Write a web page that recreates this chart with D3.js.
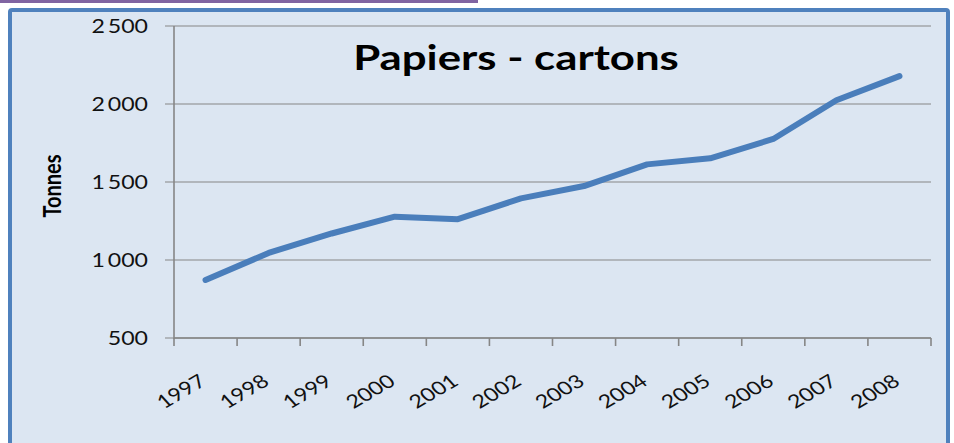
<!DOCTYPE html>
<html>
<head>
<meta charset="utf-8">
<script src="https://cdn.jsdelivr.net/npm/d3@7"></script>
<style>
  body { margin: 0; background: #fff; }
  text { font-family: Lato, "Open Sans", sans-serif; }
</style>
</head>
<body>
<div id="chart"></div>
<script>
// data
var years = ["1997","1998","1999","2000","2001","2002","2003","2004","2005","2006","2007","2008"];
var tonnes = [872, 1045, 1170, 1278, 1262, 1395, 1474, 1613, 1652, 1776, 2024, 2179];
var yTicks = [500, 1000, 1500, 2000, 2500];
var yTickLabels = ["500", "1\u2009000", "1\u2009500", "2\u2009000", "2\u2009500"];

var W = 954, H = 443;
// the original picture is stretched sideways, text too
var stretch = 1.25;

var svg = d3.select("#chart").append("svg")
  .attr("width", W)
  .attr("height", H);

// purple strip at the top
svg.append("rect")
  .attr("x", 0).attr("y", 0)
  .attr("width", 478).attr("height", 3)
  .attr("fill", "#8064a2");

// chart frame
svg.append("rect")
  .attr("x", 10).attr("y", 10)
  .attr("width", 938).attr("height", 450)
  .attr("rx", 2)
  .attr("fill", "#dce6f2")
  .attr("stroke", "#4f81bd")
  .attr("stroke-width", 4);

// plot area
var pLeft = 174, pRight = 931, pTop = 26, pBottom = 338;

var x = d3.scaleBand()
  .domain(years)
  .range([pLeft, pRight]);

var y = d3.scaleLinear()
  .domain([500, 2500])
  .range([pBottom, pTop]);

// gridlines
svg.append("g")
  .selectAll("line")
  .data(yTicks)
  .enter()
  .append("line")
    .attr("x1", pLeft - 9)
    .attr("x2", pRight)
    .attr("y1", function(d) { return y(d); })
    .attr("y2", function(d) { return y(d); })
    .attr("stroke", "#868686")
    .attr("stroke-width", 1.2);

// y axis line
svg.append("line")
  .attr("x1", pLeft).attr("x2", pLeft)
  .attr("y1", pTop).attr("y2", pBottom + 1)
  .attr("stroke", "#868686")
  .attr("stroke-width", 1.6);

// y tick labels
svg.append("g")
  .selectAll("text")
  .data(yTicks)
  .enter()
  .append("text")
    .attr("transform", function(d) { return "translate(148," + y(d) + ") scale(" + stretch + ",1)"; })
    .attr("dy", "0.36em")
    .attr("text-anchor", "end")
    .attr("font-size", 18.5)
    .attr("fill", "#111")
    .text(function(d, i) { return yTickLabels[i]; });

// x axis with tick marks between categories
var xAxis = svg.append("g")
  .attr("transform", "translate(0," + pBottom + ")");
xAxis.append("line")
  .attr("x1", pLeft).attr("x2", pRight)
  .attr("stroke", "#868686")
  .attr("stroke-width", 1.6);
xAxis.selectAll(".tk")
  .data(years.concat(["end"]))
  .enter()
  .append("line")
    .attr("class", "tk")
    .attr("x1", function(d, i) { return i < years.length ? x(d) : pRight; })
    .attr("x2", function(d, i) { return i < years.length ? x(d) : pRight; })
    .attr("y1", 0).attr("y2", 8)
    .attr("stroke", "#868686")
    .attr("stroke-width", 1.6);

// x labels, rotated
svg.append("g")
  .selectAll("text")
  .data(years)
  .enter()
  .append("text")
    .attr("transform", function(d) {
      return "translate(" + (x(d) + x.bandwidth() / 2 + 2) + "," + (pBottom + 46) + ") scale(" + stretch + ",1) rotate(-36)";
    })
    .attr("text-anchor", "end")
    .attr("font-size", 18.5)
    .attr("fill", "#111")
    .text(function(d) { return d; });

// the line
var line = d3.line()
  .x(function(d, i) { return x(years[i]) + x.bandwidth() / 2; })
  .y(function(d) { return y(d); });

svg.append("path")
  .datum(tonnes)
  .attr("d", line)
  .attr("fill", "none")
  .attr("stroke", "#4a7ebb")
  .attr("stroke-width", 6)
  .attr("stroke-linecap", "round")
  .attr("stroke-linejoin", "round");

// title
svg.append("text")
  .attr("transform", "translate(516,70) scale(" + stretch + ",1)")
  .attr("text-anchor", "middle")
  .attr("font-size", 35)
  .attr("font-weight", "bold")
  .attr("fill", "#000")
  .text("Papiers - cartons");

// y axis title
svg.append("text")
  .attr("transform", "translate(61,186) scale(" + stretch + ",1) rotate(-90)")
  .attr("text-anchor", "middle")
  .attr("font-size", 20)
  .attr("font-weight", "bold")
  .attr("fill", "#000")
  .text("Tonnes");
</script>
</body>
</html>
